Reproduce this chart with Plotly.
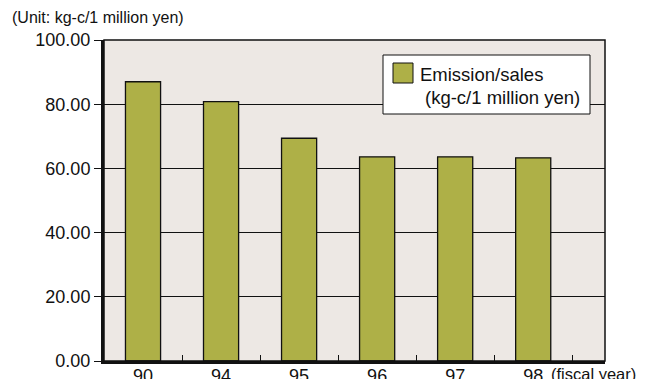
import plotly.graph_objects as go

# Emission intensity by fiscal year
years = ["90", "94", "95", "96", "97", "98"]
emission_per_sales = [87.0, 80.8, 69.4, 63.6, 63.6, 63.3]
series_name = "Emission/sales"
series_unit = "(kg-c/1 million yen)"
unit_label = "(Unit: kg-c/1 million yen)"
x_suffix = "(fiscal year)"
y_ticks = [0, 20, 40, 60, 80, 100]

BAR = "#AEB047"
BG = "#EDE8E4"
FONT = "Liberation Sans, Arial, Helvetica, sans-serif"

xpos = list(range(len(years)))

fig = go.Figure()
fig.add_trace(go.Bar(
    x=xpos, y=emission_per_sales, width=0.45,
    marker=dict(color=BAR, line=dict(color="#111111", width=1.3)),
    showlegend=False, hoverinfo="skip",
))

fig.update_layout(
    width=647, height=379,
    margin=dict(l=104, r=42, t=40, b=18, autoexpand=False),
    paper_bgcolor="white", plot_bgcolor=BG,
    font=dict(family=FONT, color="#111111"),
)

fig.update_xaxes(
    range=[-0.5, 5.92], automargin=False,
    tickmode="array", tickvals=xpos, ticktext=years,
    ticks="", ticklabelstandoff=-4,
    tickfont=dict(size=18, family=FONT, color="#111111"),
    showgrid=False, zeroline=False,
    showline=True, linecolor="#111111", linewidth=3,
    minor=dict(tickmode="array", tickvals=[i + 0.5 for i in xpos],
               ticks="inside", ticklen=6, tickwidth=1, tickcolor="#111111",
               showgrid=False),
)
fig.update_yaxes(
    range=[0, 100], automargin=False,
    tickmode="array", tickvals=y_ticks, ticktext=[f"{v:.2f}" for v in y_ticks],
    ticks="outside", ticklen=7, tickwidth=1, tickcolor="#111111",
    ticklabelstandoff=0,
    tickfont=dict(size=18, family=FONT, color="#111111"),
    showgrid=True, gridcolor="#111111", gridwidth=1,
    zeroline=False,
    showline=True, linecolor="#111111", linewidth=3,
)

# thin frame on top/right
fig.add_shape(type="rect", xref="paper", yref="paper", x0=0, y0=0, x1=1, y1=1,
              line=dict(color="#111111", width=1.5), layer="above")

# legend box
lx0, lx1 = (383 - 104) / 501, (590 - 104) / 501
ly0, ly1 = (361 - 114) / 321, (361 - 55) / 321
fig.add_shape(type="rect", xref="paper", yref="paper", x0=lx0, x1=lx1, y0=ly0, y1=ly1,
              fillcolor="white", line=dict(color="#111111", width=1), layer="above")
sx0, sx1 = (393 - 104) / 501, (413 - 104) / 501
sy0, sy1 = (361 - 83) / 321, (361 - 63) / 321
fig.add_shape(type="rect", xref="paper", yref="paper", x0=sx0, x1=sx1, y0=sy0, y1=sy1,
              fillcolor=BAR, line=dict(color="#111111", width=1), layer="above")
fig.add_annotation(xref="paper", yref="paper", x=(418 - 104) / 501, y=(361 - 74) / 321,
                   text=series_name, showarrow=False, xanchor="left", yanchor="middle",
                   font=dict(size=18.5, family=FONT, color="#111111"))
fig.add_annotation(xref="paper", yref="paper", x=(423 - 104) / 501, y=(361 - 97) / 321,
                   text=series_unit, showarrow=False, xanchor="left", yanchor="middle",
                   font=dict(size=18.5, family=FONT, color="#111111"))

fig.add_annotation(xref="paper", yref="paper", x=-104 / 501 + 10 / 501, y=(361 - 18) / 321,
                   text=unit_label, showarrow=False, xanchor="left", yanchor="middle",
                   font=dict(size=16, family=FONT, color="#111111"))
fig.add_annotation(xref="paper", yref="paper", x=(549 - 104) / 501, y=(361 - 374) / 321,
                   text=x_suffix, showarrow=False, xanchor="left", yanchor="middle",
                   font=dict(size=16.5, family=FONT, color="#111111"))

fig.write_html("out.html")
